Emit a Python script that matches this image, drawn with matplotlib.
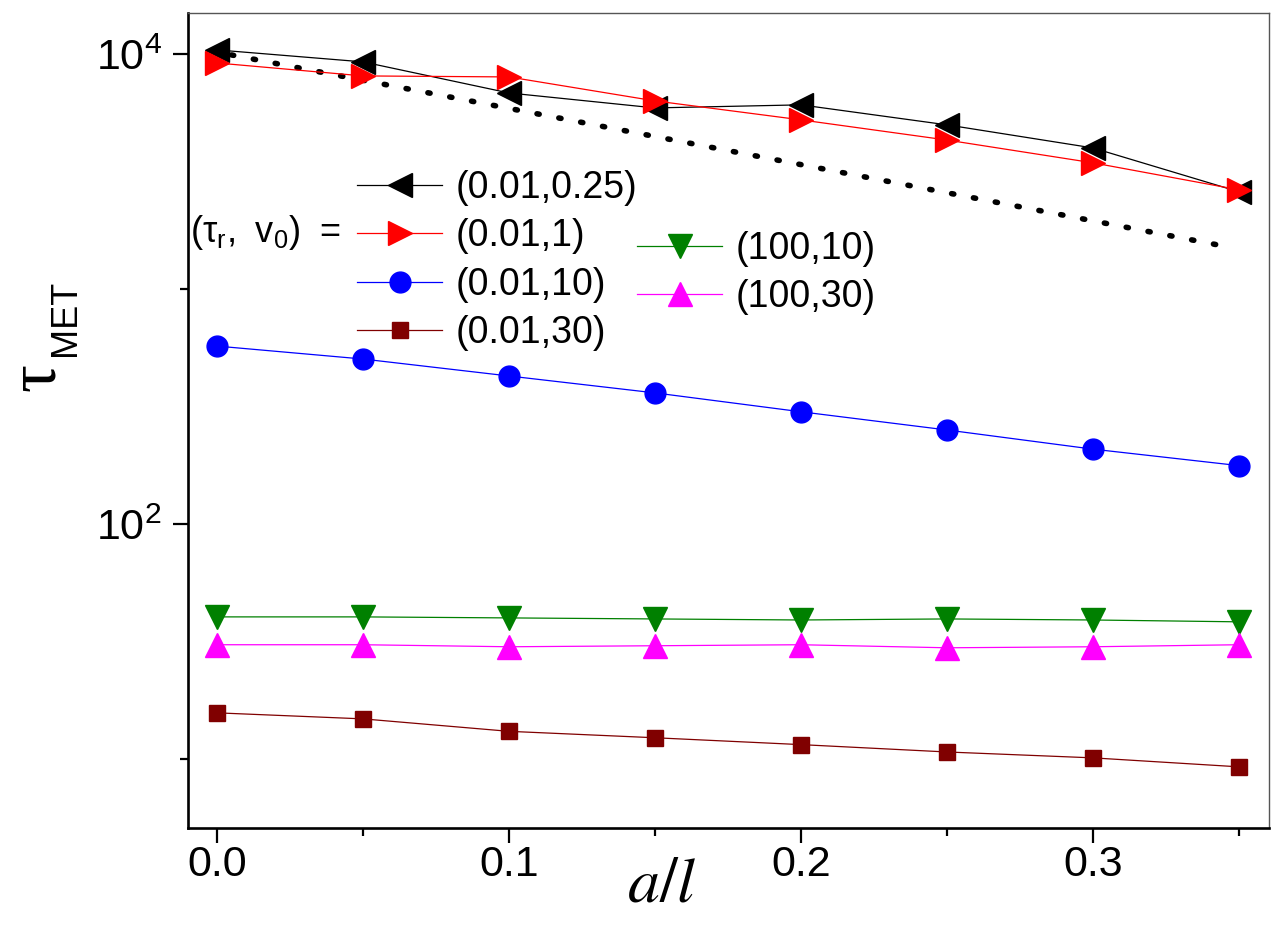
import matplotlib
matplotlib.use("Agg")
import matplotlib.pyplot as plt
from matplotlib.ticker import FixedLocator, LogFormatterMathtext, NullFormatter

plt.rcParams['font.family'] = ['Liberation Sans', 'DejaVu Sans']

# data
x = [0.0, 0.05, 0.1, 0.15, 0.2, 0.25, 0.3, 0.35]
t_001_025 = [10400, 9250, 6820, 5890, 6070, 4990, 3980, 2590]
t_001_1 = [9150, 8060, 7980, 6310, 5240, 4300, 3440, 2640]
t_001_10 = [571, 503, 426, 361, 300, 251, 208, 177]
t_001_30 = [15.7, 14.8, 13.1, 12.3, 11.5, 10.7, 10.1, 9.25]
t_100_10 = [40.2, 40.2, 39.8, 39.4, 39.0, 39.4, 39.0, 38.3]
t_100_30 = [30.6, 30.6, 30.0, 30.3, 30.6, 29.7, 30.0, 30.6]
fit_x = [0.005, 0.345]
fit_y = [9900, 1520]

W, H = 1284, 941
fig = plt.figure(figsize=(12.84, 9.41), dpi=100)
ax = fig.add_axes([188 / W, 1 - 828 / H, (1269 - 188) / W, (828 - 13) / H])

ax.plot(fit_x, fit_y, color='black', lw=4, linestyle=(0, (0.4, 3.6)),
        dash_capstyle='round', zorder=2)

lw = 0.9
h1, = ax.plot(x, t_001_025, color='black', lw=lw, marker='<', ms=17, label='(0.01,0.25)', zorder=3)
h2, = ax.plot(x, t_001_1, color='red', lw=lw, marker='>', ms=17, label='(0.01,1)', zorder=4)
h3, = ax.plot(x, t_001_10, color='blue', lw=lw, marker='o', ms=15, label='(0.01,10)', zorder=3)
h4, = ax.plot(x, t_001_30, color='#800000', lw=lw, marker='s', ms=12, label='(0.01,30)', zorder=3)
h5, = ax.plot(x, t_100_10, color='green', lw=lw, marker='v', ms=17, label='(100,10)', zorder=3)
h6, = ax.plot(x, t_100_30, color='magenta', lw=lw, marker='^', ms=17, label='(100,30)', zorder=3)

ax.set_yscale('log')
ax.set_xlim(-0.0099, 0.3603)
ax.set_ylim(5.08, 14930)

ax.xaxis.set_major_locator(FixedLocator([0.0, 0.1, 0.2, 0.3]))
ax.xaxis.set_minor_locator(FixedLocator([0.05, 0.15, 0.25, 0.35]))
ax.set_xticklabels(['0.0', '0.1', '0.2', '0.3'])
ax.yaxis.set_major_locator(FixedLocator([1e2, 1e4]))
ax.yaxis.set_minor_locator(FixedLocator([1e1, 1e3]))
ax.yaxis.set_major_formatter(LogFormatterMathtext())
ax.yaxis.set_minor_formatter(NullFormatter())

ax.tick_params(which='major', direction='out', length=11, width=1.6, labelsize=31)
ax.tick_params(axis='x', which='major', pad=1)
ax.tick_params(axis='y', which='major', pad=8)
ax.tick_params(which='minor', direction='out', length=6, width=1.6)
ax.tick_params(top=False, right=False, which='both')

for s in ['left', 'bottom']:
    ax.spines[s].set_linewidth(1.9)
for s in ['top', 'right']:
    ax.spines[s].set_linewidth(1.0)
    ax.spines[s].set_color('#555555')

# axis titles placed as in the reference
fig.text(662 / W, 1 - 884 / H, r'$a/l$', fontsize=46, math_fontfamily='stix',
         ha='center', va='center')
fig.text(37 / W, 1 - 377 / H, '\u03c4', fontsize=50, family='Liberation Serif',
         rotation=90, ha='center', va='center')
fig.text(65 / W, 1 - 318 / H, 'MET', fontsize=26, rotation=90, ha='center', va='center')

leg_kw = dict(loc='upper left', bbox_transform=fig.transFigure, frameon=False,
              fontsize=27, handlelength=2.27, handletextpad=0.35,
              labelspacing=0.33, borderpad=0, borderaxespad=0)
leg1 = ax.legend(handles=[h1, h2, h3, h4], bbox_to_anchor=(357 / W, 1 - 170 / H), **leg_kw)
ax.add_artist(leg1)
ax.legend(handles=[h5, h6], bbox_to_anchor=(637 / W, 1 - 231 / H), **leg_kw)

fig.text(190 / W, 1 - 233 / H, r'$\mathregular{(\tau_r,\ v_0)\ =}$', fontsize=26, va='center')

fig.savefig('out.png', dpi=100)
